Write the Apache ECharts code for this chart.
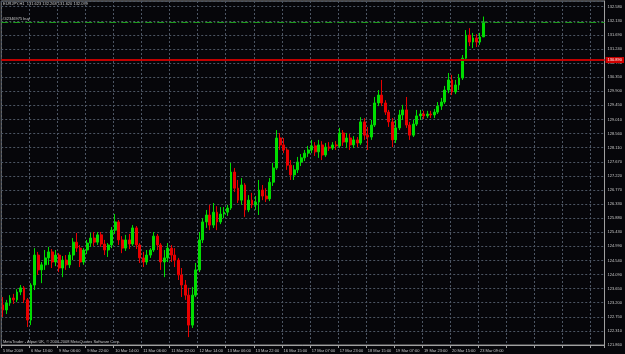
<!DOCTYPE html>
<html><head><meta charset="utf-8">
<script src="https://cdn.jsdelivr.net/npm/echarts@6/dist/echarts.min.js"></script>
<style>html,body{margin:0;padding:0;background:#06060a;}#c{width:625px;height:354px;}</style>
</head><body><div id="c"></div>
<script>
// ---- data ----
const symbolTitle = 'EURJPY,H1';
const lastBarText = '131.623 132.268 131.620 132.099';
const footerText = 'MetaTrader - Alpari UK, \u00a9 2001-2008 MetaQuotes Software Corp.';
const tickLabels = ['5 Mar 2009','6 Mar 13:00','9 Mar 06:00','9 Mar 22:00','10 Mar 14:00','11 Mar 06:00','11 Mar 22:00','12 Mar 14:00','13 Mar 06:00','13 Mar 22:00','16 Mar 15:00','17 Mar 07:00','17 Mar 23:00','18 Mar 15:00','19 Mar 07:00','19 Mar 23:00','20 Mar 15:00','23 Mar 09:00'];
const barsPerLabel = 8;
const slotCount = 172;

const opens = [123.13,122.97,123.19,123.35,123.29,123.54,123.67,123.29,122.65,123.76,
124.71,124.24,124.40,124.62,124.81,124.49,124.71,124.30,124.55,124.40,
124.71,125.12,124.93,124.49,124.87,125.09,125.25,125.12,125.35,125.06,
124.87,125.03,125.50,125.76,125.19,124.93,125.19,125.06,125.57,125.03,
124.62,124.49,124.71,124.87,125.31,125.03,124.49,124.62,124.93,124.71,
124.55,124.08,123.76,123.44,122.49,123.44,124.24,125.19,125.76,125.98,
125.66,126.07,125.76,126.01,126.07,126.20,127.34,126.83,126.45,126.93,
126.14,126.45,126.30,126.39,126.77,126.58,126.49,127.02,127.47,128.42,
128.20,128.04,127.56,127.25,127.41,127.66,127.79,127.94,128.04,128.17,
127.98,128.20,127.88,128.13,128.10,128.20,128.17,128.58,128.29,128.42,
128.20,128.36,128.26,128.93,128.51,128.45,128.83,129.53,129.78,129.53,
129.24,128.93,128.36,128.74,129.15,129.31,128.83,128.51,128.86,129.12,
129.18,129.12,129.18,129.15,129.24,129.43,129.56,129.94,130.26,129.88,
130.10,130.32,130.95,131.68,131.46,131.59,131.46,131.623];
const closes = [122.97,123.19,123.35,123.29,123.54,123.67,123.29,122.65,123.76,124.71,
124.24,124.40,124.62,124.81,124.49,124.71,124.30,124.55,124.40,124.71,
125.12,124.93,124.49,124.87,125.09,125.25,125.12,125.35,125.06,124.87,
125.03,125.50,125.76,125.19,124.93,125.19,125.06,125.57,125.03,124.62,
124.49,124.71,124.87,125.31,125.03,124.49,124.62,124.93,124.71,124.55,
124.08,123.76,123.44,122.49,123.44,124.24,125.19,125.76,125.98,125.66,
126.07,125.76,126.01,126.07,126.20,127.34,126.83,126.45,126.93,126.14,
126.45,126.30,126.39,126.77,126.58,126.49,127.02,127.47,128.42,128.20,
128.04,127.56,127.25,127.41,127.66,127.79,127.94,128.04,128.17,127.98,
128.20,127.88,128.13,128.10,128.20,128.17,128.58,128.29,128.42,128.20,
128.36,128.26,128.93,128.51,128.45,128.83,129.53,129.78,129.53,129.24,
128.93,128.36,128.74,129.15,129.31,128.83,128.51,128.86,129.12,129.18,
129.12,129.18,129.15,129.24,129.43,129.56,129.94,130.26,129.88,130.10,
130.32,130.95,131.68,131.46,131.59,131.46,131.62,132.099];
const lows = [122.75,122.84,123.10,123.16,123.22,123.44,123.19,122.43,122.49,123.60,
124.08,123.82,124.24,124.40,124.30,124.36,124.17,124.01,124.24,124.30,
124.55,124.81,124.33,124.40,124.74,124.97,125.00,125.03,124.97,124.71,
124.65,124.93,125.38,125.03,124.77,124.84,124.90,125.00,124.90,124.46,
124.33,124.40,124.62,124.81,124.87,124.24,124.01,124.49,124.49,124.33,
123.92,123.38,123.29,122.11,122.40,123.38,124.17,125.09,125.57,125.50,
125.57,125.50,125.69,125.88,125.95,126.14,126.71,126.36,126.30,125.92,
126.07,126.20,126.14,125.98,126.45,126.39,126.42,126.90,127.41,128.04,
127.94,127.41,127.09,127.09,127.31,127.53,127.69,127.82,127.94,127.85,
127.79,127.72,127.82,128.01,128.04,128.04,128.10,128.17,128.10,128.04,
128.10,128.13,128.20,128.36,128.04,128.36,128.77,129.43,129.43,129.15,
128.77,128.13,128.26,128.67,128.99,128.74,128.36,128.45,128.80,128.99,
129.02,129.05,129.05,129.05,129.18,129.31,129.50,129.84,129.78,129.81,
129.94,130.26,130.89,131.33,131.27,131.30,131.37,131.620];
const highs = [123.38,123.29,123.44,123.48,123.63,123.76,123.73,123.35,123.82,124.93,
124.81,124.49,124.87,124.97,124.90,124.87,124.77,124.68,124.71,124.81,
125.25,125.41,125.03,124.93,125.19,125.41,125.44,125.44,125.44,125.19,
125.09,125.60,126.01,125.82,125.31,125.35,125.38,125.66,125.63,125.09,
124.81,124.87,124.93,125.44,125.38,125.09,124.87,125.09,125.03,124.93,
124.62,124.30,123.92,123.67,123.70,124.46,125.44,125.88,126.14,126.30,
126.36,126.26,126.23,126.23,126.30,127.63,127.47,127.09,127.15,126.99,
126.61,126.68,126.58,127.09,126.93,126.83,127.15,127.63,128.67,128.58,
128.42,128.10,127.72,127.56,127.82,127.91,128.04,128.17,128.36,128.29,
128.36,128.32,128.26,128.29,128.29,128.32,128.74,128.67,128.58,128.55,
128.48,128.45,129.08,129.05,128.77,128.99,129.72,129.94,130.26,129.62,
129.31,129.05,128.99,129.31,129.47,129.72,128.93,128.99,129.31,129.31,
129.28,129.28,129.28,129.34,129.56,129.69,130.07,130.48,130.42,130.26,
130.45,131.05,131.84,131.90,131.75,131.71,131.75,132.268];

const orderPrice = 132.10;
const orderText = '#42346975 buy';
const bidPrice = 132.099;
const bidText = '132.099';
const stopPrice = 130.89;
const stopText = '130.890';
const priceMin = 121.86;
const priceStep = 0.446667;
const priceMax = 132.761;

// ---- build ----
const categories = Array.from({length: slotCount}, (_, i) =>
  i % barsPerLabel === 0 ? (tickLabels[i / barsPerLabel] || '') : '');
const candles = opens.map((o, i) => [o, closes[i], lows[i], highs[i]]);

const FONT = 'Liberation Sans';
const TXT = '#c8c8c8';
const GRIDC = '#4c5563';

const chart = echarts.init(document.getElementById('c'), null, {renderer: 'canvas'});
chart.setOption({
  animation: false,
  backgroundColor: '#06060a',
  grid: {left: 1, right: 17, top: 1, bottom: 9, show: true, borderColor: '#8a8a8a', borderWidth: 1},
  xAxis: {
    type: 'category', data: categories, boundaryGap: true,
    axisLine: {show: true, lineStyle: {color: '#a0a0a0'}},
    axisTick: {show: true, interval: barsPerLabel - 1, length: 3, lineStyle: {color: '#a0a0a0'}},
    axisLabel: {interval: barsPerLabel - 1, align: 'left', color: TXT, fontSize: 4, margin: 4, fontFamily: FONT},
    splitLine: {show: true, interval: barsPerLabel - 1, lineStyle: {color: GRIDC, type: [2, 2], width: 1}}
  },
  yAxis: {
    type: 'value', position: 'right', min: priceMin, max: priceMax, interval: priceStep, scale: true,
    axisLine: {show: true, lineStyle: {color: '#a0a0a0'}},
    axisTick: {show: false},
    axisLabel: {color: TXT, fontSize: 4, margin: 3, fontFamily: FONT,
      formatter: v => Math.abs(v - priceMax) < 1e-4 ? '' : (Math.round(v * 100) / 100).toFixed(2) + '0'},
    splitLine: {show: true, lineStyle: {color: GRIDC, type: [2, 2], width: 1}}
  },
  series: [{
    type: 'candlestick', data: candles, barWidth: 2.4,
    itemStyle: {color: '#00dd00', color0: '#e80000', borderColor: '#00dd00', borderColor0: '#e80000', borderWidth: 1},
    markLine: {
      silent: true, symbol: ['none', 'none'], animation: false,
      data: [
        {yAxis: orderPrice, lineStyle: {color: '#1e9a1e', type: [7, 2, 1, 2], width: 1},
          label: {show: true, position: 'insideStartTop', formatter: orderText, color: TXT, fontSize: 4, fontFamily: FONT, distance: 1}},
        {yAxis: bidPrice, lineStyle: {opacity: 0},
          label: {show: true, position: 'end', formatter: bidText, color: '#000', backgroundColor: '#ffffff', fontSize: 4, fontFamily: FONT, padding: [1, 2], distance: 1}},
        {yAxis: stopPrice, lineStyle: {color: '#c00000', type: 'solid', width: 2},
          label: {show: true, position: 'end', formatter: stopText, color: '#ffffff', backgroundColor: '#d00000', fontSize: 4, fontFamily: FONT, padding: [1, 2], distance: 1}}
      ]
    }
  }],
  graphic: [
    {type: 'text', left: 3, top: 2, style: {text: symbolTitle + '  ' + lastBarText, fill: TXT, font: '4px "Liberation Sans"'}},
    {type: 'text', left: 3, top: 340, style: {text: footerText, fill: TXT, font: '4px "Liberation Sans"'}}
  ]
});
</script></body></html>
